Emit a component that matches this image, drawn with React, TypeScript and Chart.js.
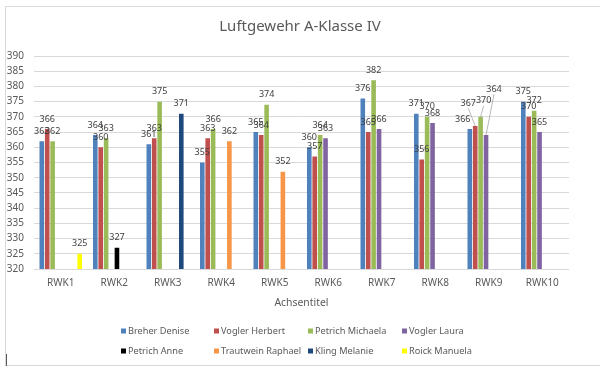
import React, { useEffect, useRef } from "react";
import { Chart, registerables } from "chart.js";

Chart.register(...registerables);

const categories = ["RWK1", "RWK2", "RWK3", "RWK4", "RWK5", "RWK6", "RWK7", "RWK8", "RWK9", "RWK10"];
const seriesNames = [
  "Breher Denise",
  "Vogler Herbert",
  "Petrich Michaela",
  "Vogler Laura",
  "Petrich Anne",
  "Trautwein Raphael",
  "Kling Melanie",
  "Roick Manuela",
];
const seriesColors = ["#4F81BD", "#C0504D", "#9BBB59", "#8064A2", "#000000", "#F79646", "#1F497D", "#FFFF00"];

const breherDenise = [362, 364, 361, 355, 365, 360, 376, 371, 366, 375];
const voglerHerbert = [366, 360, 363, 363, 364, 357, 365, 356, 367, 370];
const petrichMichaela = [362, 363, 375, 366, 374, 364, 382, 370, 370, 372];
const voglerLaura = [null, null, null, null, null, 363, 366, 368, 364, 365];
const petrichAnne = [null, 327, null, null, null, null, null, null, null, null];
const trautweinRaphael = [null, null, null, 362, 352, null, null, null, null, null];
const klingMelanie = [null, null, 371, null, null, null, null, null, null, null];
const roickManuela = [325, null, null, null, null, null, null, null, null, null];

const yTicks = [320, 325, 330, 335, 340, 345, 350, 355, 360, 365, 370, 375, 380, 385, 390];

const chartTitle = "Luftgewehr A-Klasse IV";
const xAxisTitle = "Achsentitel";

const FONT = "'Noto Sans', 'Open Sans', sans-serif";

const titlePlugin = {
  id: "excelTitle",
  afterDraw(chart: any) {
    const ctx = chart.ctx;
    ctx.save();
    ctx.font = `15px ${FONT}`;
    ctx.fillStyle = "#595959";
    ctx.textAlign = "center";
    ctx.textBaseline = "middle";
    ctx.fillText(chartTitle, 300, 27);
    ctx.restore();
  },
};

// manual label nudges (series index - category index) -> [dx, dy], as Excel did for crowded labels
const labelNudges: Record<string, [number, number]> = {
  "0-8": [-7, 0],
  "1-8": [-7, -13],
  "2-8": [3, -6],
  "3-8": [8, -36],
};

const labelPlugin = {
  id: "barLabels",
  afterDatasetsDraw(chart: any) {
    const ctx = chart.ctx;
    ctx.save();
    ctx.font = `9px ${FONT}`;
    ctx.textAlign = "center";
    ctx.textBaseline = "middle";
    chart.data.datasets.forEach((ds: any, i: number) => {
      const meta = chart.getDatasetMeta(i);
      meta.data.forEach((bar: any, j: number) => {
        const v = ds.data[j];
        if (v == null) return;
        const nudge = labelNudges[`${i}-${j}`] || [0, 0];
        const lx = bar.x + nudge[0];
        const ly = bar.y - 10 + nudge[1];
        if (Math.abs(nudge[1]) > 5) {
          ctx.strokeStyle = "#A6A6A6";
          ctx.lineWidth = 0.8;
          ctx.beginPath();
          ctx.moveTo(lx, ly + 5);
          ctx.lineTo(bar.x, bar.y);
          ctx.stroke();
        }
        ctx.fillStyle = "#404040";
        ctx.fillText(String(v), lx, ly);
      });
    });
    ctx.restore();
  },
};

const legendCols = [121, 214, 308, 402];
const legendRows = [331, 351];

const legendPlugin = {
  id: "excelLegend",
  afterDraw(chart: any) {
    const ctx = chart.ctx;
    ctx.save();
    ctx.font = `9.2px ${FONT}`;
    ctx.textBaseline = "middle";
    ctx.textAlign = "left";
    chart.data.datasets.forEach((ds: any, i: number) => {
      const x = legendCols[i % 4];
      const y = legendRows[Math.floor(i / 4)];
      ctx.fillStyle = ds.backgroundColor;
      ctx.fillRect(x, y - 2.5, 5, 5);
      ctx.fillStyle = "#595959";
      ctx.fillText(ds.label, x + 7, y);
    });
    ctx.restore();
  },
};

export default function App() {
  const canvasRef = useRef<HTMLCanvasElement | null>(null);

  useEffect(() => {
    if (!canvasRef.current) return;
    const seriesData = [
      breherDenise,
      voglerHerbert,
      petrichMichaela,
      voglerLaura,
      petrichAnne,
      trautweinRaphael,
      klingMelanie,
      roickManuela,
    ];
    const chart = new Chart(canvasRef.current, {
      type: "bar",
      data: {
        labels: categories,
        datasets: seriesData.map((d, i) => ({
          label: seriesNames[i],
          data: d as any,
          backgroundColor: seriesColors[i],
          borderWidth: 0,
          categoryPercentage: 0.81,
          barPercentage: 0.85,
        })),
      },
      options: {
        animation: false,
        responsive: false,
        maintainAspectRatio: false,
        layout: { padding: { top: 56, right: 31, left: 0, bottom: 60 } },
        plugins: {
          legend: { display: false },
          title: { display: false },
          tooltip: { enabled: false },
        },
        scales: {
          x: {
            grid: { display: false, drawTicks: false },
            border: { display: false },
            ticks: {
              color: "#595959",
              font: { family: FONT, size: 10 },
              padding: 8,
              maxRotation: 0,
            },
            title: {
              display: true,
              text: xAxisTitle,
              color: "#595959",
              font: { family: FONT, size: 10.4 },
              padding: { top: 0, bottom: -3 },
            },
            afterFit(scale: any) {
              scale.height = 37;
            },
          },
          y: {
            min: 320,
            max: 390,
            afterBuildTicks(scale: any) {
              scale.ticks = yTicks.map((v) => ({ value: v }));
            },
            grid: { color: "#D9D9D9", drawTicks: false },
            border: { display: false },
            ticks: {
              color: "#595959",
              font: { family: FONT, size: 10 },
              padding: 10,
            },
            afterFit(scale: any) {
              scale.width = 34;
            },
          },
        },
      },
      plugins: [titlePlugin, labelPlugin, legendPlugin],
    });
    return () => chart.destroy();
  }, []);

  return (
    <div style={{ position: "fixed", left: 0, top: 0, width: 600, height: 366, background: "#fff" }}>
      <div
        style={{
          position: "absolute",
          left: 5,
          top: 6,
          width: 595,
          height: 358,
          borderLeft: "1px solid #d9d9d9",
          borderTop: "1px solid #d9d9d9",
          borderBottom: "1px solid #d9d9d9",
        }}
      />
      <div style={{ position: "absolute", left: 6, top: 354, width: 1, height: 12, background: "#595959" }} />
      <canvas
        ref={canvasRef}
        width={600}
        height={366}
        style={{ position: "absolute", left: 0, top: 0, width: 600, height: 366 }}
      />
    </div>
  );
}
